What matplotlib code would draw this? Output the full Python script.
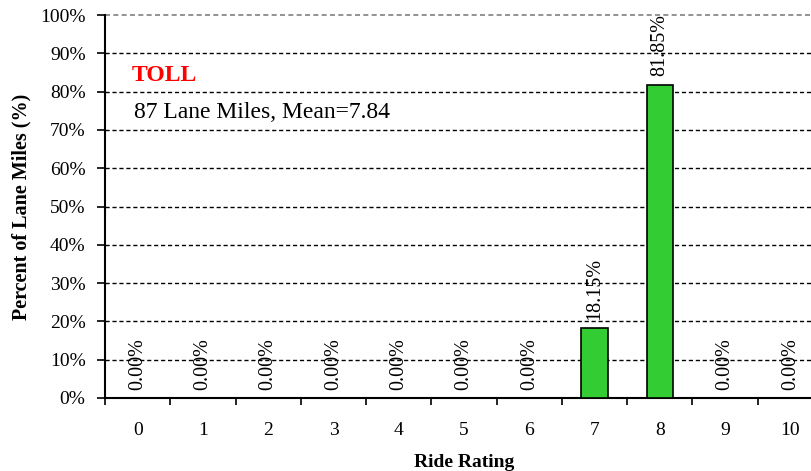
import numpy as np
import matplotlib
matplotlib.use("Agg")
from matplotlib import pyplot as plt
from matplotlib.ticker import FixedLocator, PercentFormatter

# data
ratings = [0, 1, 2, 3, 4, 5, 6, 7, 8, 9, 10]
percents = [0.0, 0.0, 0.0, 0.0, 0.0, 0.0, 0.0, 18.15, 81.85, 0.0, 0.0]
title_txt = "TOLL"
sub_txt = "87 Lane Miles, Mean=7.84"

plt.rcParams['font.family'] = ['Liberation Serif', 'DejaVu Serif']

fig = plt.figure(figsize=(8.11, 4.71), dpi=100)
ax = fig.add_axes([105/811, 73/471, 718/811, 383/471])

x = np.array(ratings)
ax.bar(x, percents, width=0.4, color='#33CC33', edgecolor='black', linewidth=1.2, zorder=3)

# value labels above each bar
for xi, p in zip(x, percents):
    ax.annotate(f"{p:.2f}%", (xi, p), xytext=(0, 6), textcoords='offset points',
                rotation=90, ha='center', va='bottom', fontsize=14.5, zorder=4)

ax.set_xlim(-0.5, 10.5)
ax.set_ylim(0, 100)
ax.set_yticks(np.arange(0, 101, 10))
ax.yaxis.set_major_formatter(PercentFormatter(decimals=0))
ax.set_xticks(x)
ax.set_xticklabels([str(r) for r in ratings])
ax.xaxis.set_minor_locator(FixedLocator(np.arange(-0.5, 11, 1)))
ax.tick_params(axis='x', which='major', length=0, pad=17, labelsize=14)
ax.tick_params(axis='x', which='minor', length=5, width=1.2, direction='out')
ax.tick_params(axis='y', length=6, width=1.2, direction='out', labelsize=14, pad=8)

for yv in range(10, 100, 10):
    ax.axhline(yv, color='black', linestyle='--', linewidth=1, dashes=(3, 2), zorder=1)
ax.axhline(100, color='#808080', linestyle='--', linewidth=1.2, dashes=(3, 2), zorder=1, clip_on=False)

for s in ['top', 'right']:
    ax.spines[s].set_visible(False)
ax.spines['left'].set_linewidth(1.5)
ax.spines['bottom'].set_linewidth(1.5)

ax.set_xlabel("Ride Rating", fontweight='bold', fontsize=14, labelpad=11)
ax.set_ylabel("Percent of Lane Miles (%)", fontweight='bold', fontsize=14.5, labelpad=6)

ax.text(0.037, 0.843, title_txt, transform=ax.transAxes, color='red', fontweight='bold',
        fontsize=17, ha='left', va='center')
ax.text(0.041, 0.745, sub_txt, transform=ax.transAxes, color='black',
        fontsize=17, ha='left', va='center')

fig.savefig("out.png", dpi=100)
